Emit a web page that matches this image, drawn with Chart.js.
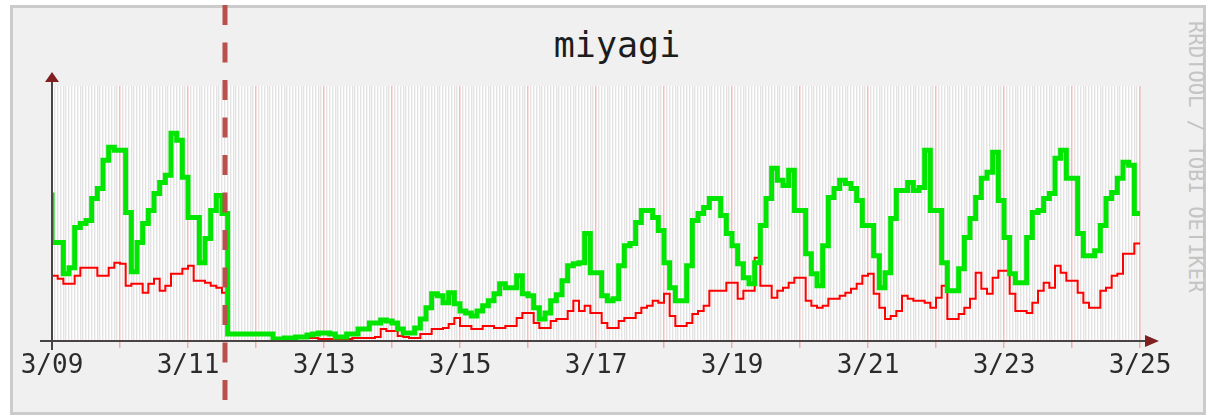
<!DOCTYPE html>
<html lang="en">
<head>
<meta charset="UTF-8">
<title>miyagi</title>
<script src="https://cdn.jsdelivr.net/npm/chart.js"></script>
<style>
  body { margin: 0; background: #fff; width: 1206px; height: 416px; overflow: hidden; font-family: "DejaVu Sans Mono", monospace; }
  .frame { position: absolute; left: 10px; top: 5px; width: 1190px; height: 404px; background: #f0f0f0; border: 3px solid #cbcbcb; }
  .title { position: absolute; left: 517px; top: 28px; width: 200px; text-align: center; font-size: 35px; line-height: 35px; color: #1c1c1c; }
  .brand { position: absolute; left: 1186px; top: 21px; writing-mode: vertical-rl; font-size: 20.5px; line-height: 20px; color: #c4c4c4; }
  .wrap { position: absolute; left: 0; top: 0; width: 1206px; height: 416px; }
</style>
</head>
<body>
<div class="frame"></div>
<div class="title">miyagi</div>
<div class="brand">RRDTOOL / TOBI OETIKER</div>
<div class="wrap"><canvas id="graph"></canvas></div>

<script>
// one value every 2 hours, 3/09 00:00 .. 3/25 00:00 (first value = level at the left edge)
const STEP_HOURS = 2;
const dayLabels = ['3/09', '3/10', '3/11', '3/12', '3/13', '3/14', '3/15', '3/16', '3/17',
                   '3/18', '3/19', '3/20', '3/21', '3/22', '3/23', '3/24', '3/25'];
const quakeHour = 61;

const greenValues = [
  148, 98, 98, 67, 73, 113, 117, 120, 142, 152, 180, 193,
  190, 190, 128, 69, 98, 117, 130, 147, 158, 165, 207, 200,
  163, 123, 123, 78, 102, 130, 145, 127, 7, 7, 7, 7,
  7, 7, 7, 7, 2, 2, 3, 3, 4, 4, 6, 7,
  8, 8, 7, 4, 4, 7, 7, 12, 12, 18, 18, 21,
  20, 18, 12, 8, 8, 13, 22, 33, 47, 45, 38, 48,
  37, 30, 28, 25, 30, 35, 40, 47, 57, 53, 53, 65,
  47, 45, 33, 22, 28, 40, 46, 60, 75, 77, 78, 107,
  68, 68, 45, 40, 42, 75, 95, 97, 118, 130, 130, 123,
  110, 78, 53, 40, 40, 75, 120, 127, 133, 142, 142, 125,
  107, 95, 77, 63, 57, 78, 115, 142, 172, 160, 155, 170,
  130, 130, 87, 67, 55, 95, 143, 152, 160, 157, 152, 140,
  115, 115, 85, 53, 68, 122, 150, 150, 158, 150, 153, 190,
  130, 130, 78, 50, 50, 72, 103, 122, 143, 162, 168, 188,
  140, 103, 67, 58, 58, 103, 128, 130, 142, 147, 182, 190,
  162, 162, 107, 85, 85, 90, 115, 142, 148, 162, 178, 175,
  127
];

const redValues = [
  67, 65, 62, 57, 57, 65, 73, 73, 73, 65, 65, 73,
  78, 77, 55, 57, 57, 48, 57, 62, 50, 55, 67, 67,
  72, 75, 60, 60, 58, 55, 53, 48, 6, 6, 6, 6,
  6, 6, 6, 6, 2, 2, 2, 3, 3, 3, 3, 3,
  2, 2, 2, 2, 2, 2, 3, 3, 3, 3, 4, 12,
  10, 10, 5, 4, 3, 3, 7, 7, 12, 12, 13, 17,
  23, 15, 15, 12, 12, 15, 15, 13, 13, 15, 15, 23,
  28, 28, 18, 13, 13, 20, 22, 22, 30, 40, 30, 35,
  28, 28, 18, 13, 13, 20, 23, 23, 28, 33, 35, 40,
  38, 47, 25, 15, 15, 18, 27, 30, 35, 50, 50, 50,
  58, 58, 42, 50, 50, 83, 55, 55, 43, 50, 53, 58,
  63, 63, 40, 35, 33, 35, 42, 42, 45, 48, 52, 57,
  65, 67, 47, 33, 22, 25, 30, 45, 42, 40, 40, 38,
  33, 43, 55, 22, 22, 27, 33, 42, 68, 52, 47, 63,
  70, 70, 47, 30, 30, 28, 38, 50, 58, 53, 75, 68,
  60, 60, 48, 38, 33, 33, 50, 53, 65, 67, 87, 87,
  97
];

const totalHours = (dayLabels.length - 1) * 24;
const toPoints = arr => arr.map((v, i) => ({ x: i * STEP_HOURS, y: v }));

const majorColor = 'rgba(255, 0, 0, 0.28)';
const minorColor = '#e3e3e3';

// white plot area, axes with arrows, dashed marker
const rrdDecor = {
    id: 'rrdDecor',
    beforeDraw(chart) {
        const { ctx, chartArea: a } = chart;
        ctx.save();
        ctx.fillStyle = '#ffffff';
        ctx.fillRect(a.left, a.top, a.right - a.left, a.bottom - a.top);
        ctx.restore();
    },
    afterDraw(chart) {
        const { ctx, chartArea: a } = chart;
        const xs = chart.scales.x;
        ctx.save();
        ctx.strokeStyle = '#4a4343';
        ctx.lineWidth = 2;
        ctx.beginPath();
        ctx.moveTo(a.left, a.top - 8);
        ctx.lineTo(a.left, a.bottom + 9);
        ctx.moveTo(a.left - 12, a.bottom);
        ctx.lineTo(a.right + 8, a.bottom);
        ctx.stroke();

        ctx.fillStyle = '#7f1f1f';
        ctx.beginPath();
        ctx.moveTo(a.left, a.top - 14);
        ctx.lineTo(a.left - 7, a.top - 4);
        ctx.lineTo(a.left + 7, a.top - 4);
        ctx.closePath();
        ctx.fill();
        ctx.beginPath();
        ctx.moveTo(a.right + 19, a.bottom);
        ctx.lineTo(a.right + 5, a.bottom - 6);
        ctx.lineTo(a.right + 5, a.bottom + 6);
        ctx.closePath();
        ctx.fill();

        const qx = Math.round(xs.getPixelForValue(quakeHour));
        ctx.strokeStyle = '#b8504b';
        ctx.lineWidth = 5;
        ctx.setLineDash([20, 17.5]);
        ctx.lineDashOffset = 32.5;
        ctx.beginPath();
        ctx.moveTo(qx, 0);
        ctx.lineTo(qx, chart.height);
        ctx.stroke();
        ctx.restore();
    }
};

new Chart(document.getElementById('graph'), {
    type: 'line',
    data: {
        datasets: [
            {
                label: 'green',
                data: toPoints(greenValues),
                borderColor: '#00e600',
                borderWidth: 5,
                stepped: 'after',
                pointRadius: 0,
                fill: false
            },
            {
                label: 'red',
                data: toPoints(redValues),
                borderColor: '#ff0000',
                borderWidth: 2,
                stepped: 'after',
                pointRadius: 0,
                fill: false
            }
        ]
    },
    options: {
        responsive: true,
        maintainAspectRatio: false,
        animation: false,
        layout: { padding: { left: 52, right: 66, top: 86, bottom: 0 } },
        plugins: {
            legend: { display: false },
            tooltip: { enabled: false }
        },
        scales: {
            x: {
                type: 'linear',
                min: 0,
                max: totalHours,
                afterFit: scale => { scale.height = 75; },
                border: { display: false },
                grid: {
                    color: c => (c.tick && c.tick.value % 24 === 0) ? majorColor : minorColor,
                    tickColor: c => (c.tick && c.tick.value % 24 === 0) ? majorColor : 'rgba(0,0,0,0)',
                    tickLength: 7,
                    lineWidth: c => (c.tick && c.tick.value % 24 === 0) ? 1.5 : 1.4
                },
                ticks: {
                    stepSize: 1,
                    autoSkip: false,
                    maxRotation: 0,
                    minRotation: 0,
                    padding: 3,
                    color: '#2b2b2b',
                    font: { family: 'DejaVu Sans Mono', size: 26 },
                    callback: v => (v % 48 === 0) ? dayLabels[v / 24] : ''
                }
            },
            y: {
                display: false,
                min: 0,
                max: 254
            }
        }
    },
    plugins: [rrdDecor]
});
</script>
</body>
</html>
